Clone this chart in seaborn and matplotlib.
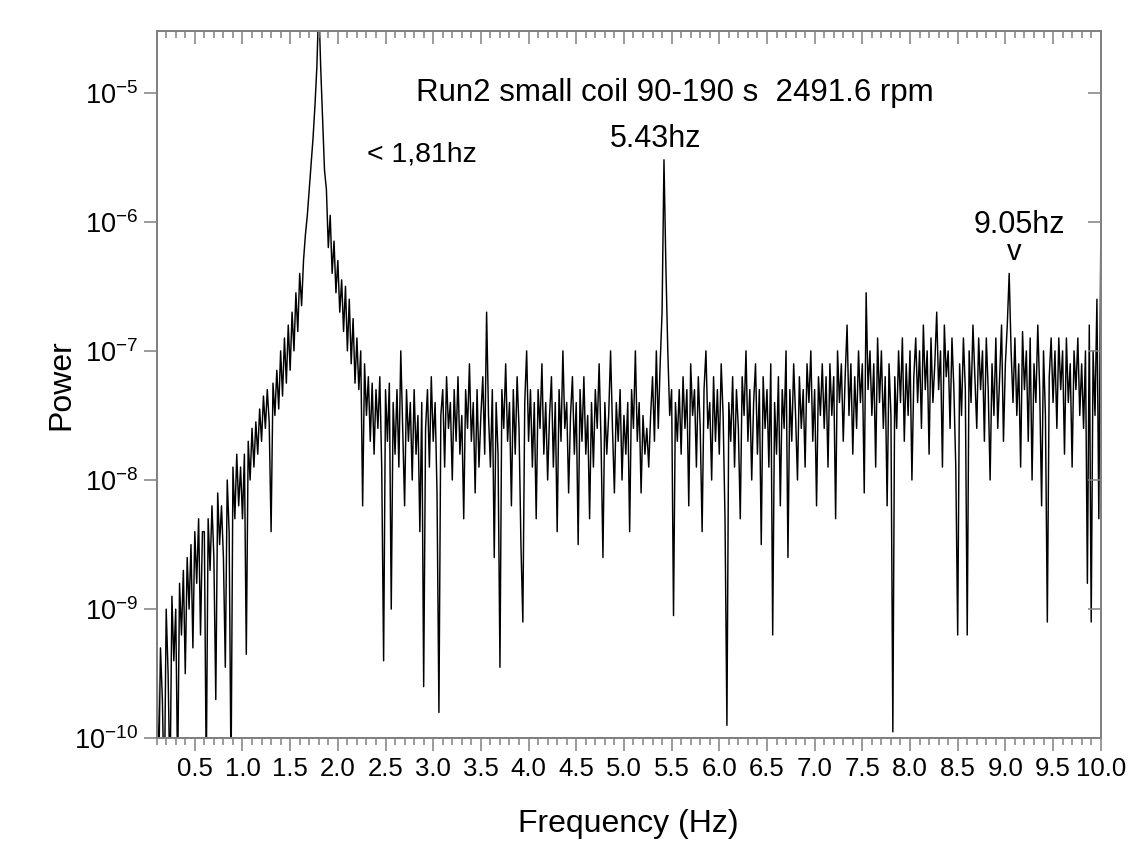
import numpy as np
import pandas as pd
import matplotlib
matplotlib.use("Agg")
import matplotlib.pyplot as plt
import seaborn as sns
from matplotlib.ticker import FixedLocator, NullLocator, NullFormatter, LogLocator

# ---------------- data (log10 of power) ----------------
freq_start = 0.10   # Hz
freq_step = 0.02    # Hz

exp_band_a = [  # 0.10 - 1.08 Hz
    -9.1, -10.4, -9.3, -9.7, -10.5, -9.0, -9.5, -10.4, -8.9, -9.4, -9.0, -10.3, -8.8,
    -9.2, -8.7, -9.5, -8.6, -9.0, -8.5, -9.3, -8.4, -8.8, -8.3, -9.2, -8.4,
    -8.4, -10.3, -8.3, -8.7, -8.2, -8.6, -9.7, -8.1, -8.5, -8.2, -8.6, -9.45, -8.0,
    -8.4, -10.3, -7.9, -8.3, -7.8, -8.2, -7.9, -8.3, -7.8, -9.35, -7.7, -8.0,
]
exp_band_b = [  # 1.10 - 2.58 Hz (1.81 Hz line)
    -7.6, -7.9, -7.55, -7.8, -7.45, -7.7, -7.35, -7.6, -7.3, -7.55, -8.4, -7.25, -7.5,
    -7.15, -7.45, -7.0, -7.35, -6.9, -7.25, -6.8, -7.15, -6.7, -7.0, -6.55, -6.85,
    -6.4, -6.65, -6.3, -6.1, -5.95, -5.75, -5.55, -5.35, -5.1, -4.8, -4.3, -4.8, -5.2,
    -5.6, -5.75, -6.2, -5.95, -6.4, -6.15, -6.55, -6.3, -6.7, -6.45, -6.85, -6.5,
    -7.0, -6.6, -7.1, -6.75, -7.25, -6.9, -7.3, -7.0, -8.2, -7.1, -7.5, -7.2, -7.7,
    -7.25, -7.8, -7.3, -7.6, -7.2, -7.9, -9.4, -7.3, -7.7, -7.25, -9.0, -7.4,
]
exp_band_c = [  # 2.60 - 5.08 Hz
    -7.8, -7.3, -7.9, -7.0, -7.6, -8.2, -7.3, -7.7, -7.4, -8.0, -7.3, -7.8, -7.5,
    -8.4, -7.4, -9.6, -7.6, -7.3, -7.9, -7.2, -7.7, -7.4, -8.1, -9.8, -7.5,
    -7.3, -7.9, -7.2, -7.6, -7.4, -8.0, -7.3, -7.7, -7.2, -7.8, -7.5, -8.3, -7.3,
    -7.6, -7.1, -7.7, -7.4, -8.1, -7.3, -7.9, -7.5, -7.2, -7.8, -6.7, -7.5,
    -7.9, -7.3, -8.6, -7.4, -7.8, -9.45, -7.3, -7.6, -7.1, -7.7, -7.4, -8.2, -7.3,
    -7.8, -7.2, -7.6, -8.5, -9.1, -7.4, -7.0, -7.7, -7.3, -7.9, -7.4, -8.3,
    -7.3, -7.6, -7.1, -7.8, -7.4, -8.0, -7.5, -7.2, -7.9, -7.4, -8.4, -7.3, -7.7,
    -7.0, -7.6, -7.4, -8.1, -7.5, -7.2, -7.8, -7.4, -8.5, -7.3, -7.7, -7.2,
    -7.8, -7.5, -8.3, -7.4, -7.9, -7.3, -7.6, -7.1, -7.7, -8.6, -7.4, -7.8, -7.5,
    -7.0, -7.6, -8.1, -7.4, -7.7, -7.3, -8.0, -7.5, -7.8, -7.4, -8.4, -7.3,
]
exp_band_d = [  # 5.10 - 7.58 Hz (5.43 Hz line)
    -7.6, -7.0, -7.7, -7.4, -8.1, -7.5, -7.8, -7.6, -7.9, -7.5, -7.2, -7.7, -7.0,
    -7.6, -7.1, -6.7, -5.52, -6.35, -7.0, -7.5, -7.3, -9.05, -7.4, -7.7, -7.3,
    -7.8, -7.2, -7.6, -7.3, -8.2, -7.1, -7.5, -7.3, -7.9, -7.2, -7.6, -8.4, -7.3,
    -7.0, -7.6, -7.4, -8.0, -7.2, -7.7, -7.3, -7.8, -7.1, -7.5, -8.3, -9.9,
    -7.4, -7.7, -7.2, -7.9, -7.3, -7.6, -8.3, -7.2, -7.5, -7.0, -7.7, -7.3, -8.0,
    -7.4, -7.1, -7.8, -7.3, -8.5, -7.2, -7.6, -7.3, -7.9, -7.1, -9.2, -7.4,
    -7.8, -7.2, -8.2, -7.3, -7.6, -7.0, -8.6, -7.3, -7.7, -7.1, -7.5, -8.0, -7.2,
    -7.6, -7.3, -7.9, -7.1, -7.4, -7.0, -7.7, -7.3, -8.2, -7.2, -7.5, -7.1,
    -7.6, -7.2, -7.9, -7.1, -7.5, -7.2, -8.3, -7.0, -7.4, -7.1, -7.7, -7.2, -6.8,
    -7.5, -7.1, -7.8, -7.2, -7.6, -7.0, -7.4, -7.1, -8.1, -6.55, -7.3, -7.0,
]
exp_band_e = [  # 7.60 - 10.00 Hz (9.05 Hz line)
    -7.5, -7.1, -7.9, -6.9, -7.4, -7.0, -7.6, -7.2, -8.2, -7.1, -7.5, -9.95, -7.2,
    -7.6, -7.0, -7.4, -6.9, -7.7, -7.1, -7.5, -7.0, -8.0, -7.2, -6.9, -7.4,
    -7.0, -7.6, -6.8, -7.3, -7.0, -7.8, -6.9, -7.4, -7.1, -6.7, -7.3, -7.0, -7.9,
    -6.8, -7.2, -7.0, -7.6, -6.9, -7.3, -7.9, -9.2, -7.1, -7.5, -6.9, -7.3,
    -9.2, -7.0, -7.4, -6.8, -7.2, -7.6, -6.9, -7.3, -7.0, -7.7, -6.9, -7.3, -8.0,
    -7.1, -7.5, -6.9, -7.6, -7.2, -6.8, -7.7, -7.1, -6.8, -6.4, -7.0, -7.4,
    -6.9, -7.5, -7.1, -7.9, -6.85, -7.3, -7.0, -7.7, -6.9, -8.0, -7.1, -7.4, -6.8,
    -7.3, -8.2, -7.0, -7.5, -9.1, -7.2, -6.9, -7.4, -7.0, -7.6, -6.9, -7.3,
    -7.0, -7.8, -6.9, -7.4, -7.1, -7.9, -7.0, -7.3, -6.9, -7.5, -7.1, -7.6, -7.0,
    -8.8, -6.8, -9.1, -7.0, -7.5, -6.6, -8.3, -6.2,
]

x_ticks = [0.5, 1.0, 1.5, 2.0, 2.5, 3.0, 3.5, 4.0, 4.5, 5.0, 5.5, 6.0, 6.5, 7.0,
           7.5, 8.0, 8.5, 9.0, 9.5, 10.0]
x_tick_labels = ["0.5", "1.0", "1.5", "2.0", "2.5", "3.0", "3.5", "4.0", "4.5", "5.0",
                 "5.5", "6.0", "6.5", "7.0", "7.5", "8.0", "8.5", "9.0", "9.5", "10.0"]
title_text = "Run2 small coil 90-190 s  2491.6 rpm"
peak_labels = ["< 1,81hz", "5.43hz", "9.05hz", "v"]

power_exp = np.array(exp_band_a + exp_band_b + exp_band_c + exp_band_d + exp_band_e)
freq = freq_start + freq_step * np.arange(len(power_exp))
df = pd.DataFrame({"Frequency": freq, "Power": 10.0 ** power_exp})

# ---------------- style ----------------
sns.set_theme(style="white")
plt.rcParams["font.family"] = ["Liberation Sans", "DejaVu Sans"]
plt.rcParams["mathtext.fontset"] = "custom"
plt.rcParams["mathtext.rm"] = "Liberation Sans"
plt.rcParams["axes.unicode_minus"] = False
spine_gray = "#808080"

fig = plt.figure(figsize=(11.46, 8.66), dpi=100)
ax = fig.add_axes([0.1367, 0.1475, 0.8238, 0.8167])

sns.lineplot(data=df, x="Frequency", y="Power", ax=ax, color="black",
             linewidth=1.05, estimator=None, sort=False)

ax.set_yscale("log")
ax.set_xlim(0.1, 10.0)
ax.set_ylim(1e-10, 3e-5)

for s in ax.spines.values():
    s.set_color(spine_gray)
    s.set_linewidth(1.1)

ax.xaxis.set_major_locator(FixedLocator(x_ticks))
ax.set_xticklabels(x_tick_labels)
ax.xaxis.set_minor_locator(FixedLocator(np.arange(0.1, 10.001, 0.1)))
ax.yaxis.set_major_locator(LogLocator(base=10, numticks=20))
ax.yaxis.set_minor_locator(NullLocator())

ax.tick_params(axis="x", which="major", direction="out", length=9.5, width=1.1,
               color=spine_gray, labelsize=18.5, pad=4, labelcolor="black")
ax.tick_params(axis="x", which="minor", direction="out", length=5, width=1.1,
               color=spine_gray)
ax.tick_params(axis="y", which="major", direction="out", length=9.5, width=1.1,
               color=spine_gray, labelsize=19.5, pad=4, labelcolor="black")

# top & right ticks (inward)
axt = ax.twiny()
axt.set_xlim(ax.get_xlim())
axt.xaxis.set_major_locator(FixedLocator(x_ticks))
axt.xaxis.set_minor_locator(FixedLocator(np.arange(0.1, 10.001, 0.1)))
axt.xaxis.set_major_formatter(NullFormatter())
axt.tick_params(axis="x", which="major", direction="in", length=9.5, width=1.1,
                color=spine_gray)
axt.tick_params(axis="x", which="minor", direction="in", length=5, width=1.1,
                color=spine_gray)
axr = ax.twinx()
axr.set_yscale("log")
axr.set_ylim(ax.get_ylim())
axr.yaxis.set_major_locator(LogLocator(base=10, numticks=20))
axr.yaxis.set_minor_locator(NullLocator())
axr.yaxis.set_major_formatter(NullFormatter())
axr.tick_params(axis="y", which="major", direction="in", length=9.5, width=1.1,
                color=spine_gray)
for a in (axt, axr):
    for s in a.spines.values():
        s.set_color(spine_gray)
        s.set_linewidth(1.1)

ax.set_xlabel("Frequency (Hz)", fontsize=23, labelpad=20, color="black")
ax.set_ylabel("Power", fontsize=23, labelpad=-2, color="black")

ax.text(0.549, 0.912, title_text, transform=ax.transAxes, ha="center", va="center",
        fontsize=22.5, color="black")
ax.text(0.281, 0.826, peak_labels[0], transform=ax.transAxes, ha="center", va="center",
        fontsize=20.5, color="black")
ax.text(0.529, 0.848, peak_labels[1], transform=ax.transAxes, ha="center", va="center",
        fontsize=22, color="black")
ax.text(0.9135, 0.725, peak_labels[2], transform=ax.transAxes, ha="center", va="center",
        fontsize=22, color="black")
ax.text(0.908, 0.688, peak_labels[3], transform=ax.transAxes, ha="center", va="center",
        fontsize=21, color="black")

fig.savefig("out.png", dpi=100)
